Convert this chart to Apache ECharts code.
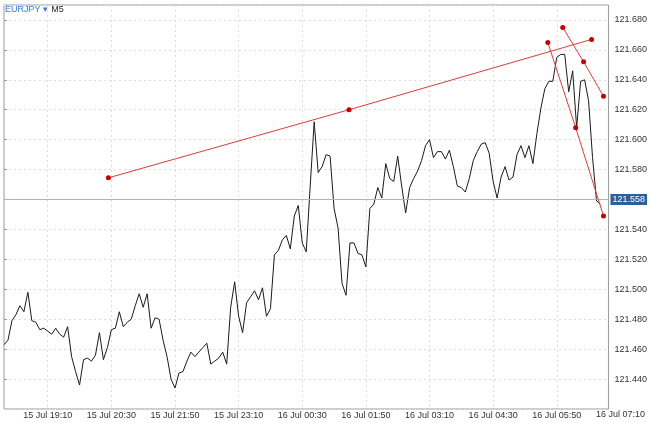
<!DOCTYPE html><html><head><meta charset="utf-8"><script src="https://cdn.jsdelivr.net/npm/echarts@6/dist/echarts.min.js"></script>
<style>html,body{margin:0;padding:0;background:#fff}#c{width:650px;height:423px}</style></head><body><div id="c"></div><script>
const prices=[121.463,121.466,121.479,121.483,121.489,121.485,121.498,121.479,121.478,121.473,121.474,121.472,121.470,121.474,121.470,121.468,121.475,121.455,121.445,121.436,
121.453,121.454,121.452,121.456,121.471,121.453,121.461,121.473,121.474,121.485,121.475,121.478,121.480,121.489,121.497,121.488,121.497,121.474,121.481,121.480,
121.466,121.455,121.440,121.434,121.444,121.445,121.452,121.458,121.455,121.458,121.461,121.464,121.450,121.452,121.454,121.458,121.450,121.488,121.505,121.482,
121.471,121.491,121.495,121.499,121.493,121.501,121.482,121.487,121.523,121.526,121.533,121.536,121.527,121.549,121.556,121.531,121.525,121.569,121.612,121.578,
121.582,121.590,121.589,121.554,121.541,121.504,121.496,121.531,121.531,121.524,121.523,121.515,121.554,121.557,121.568,121.561,121.584,121.574,121.572,121.589,
121.569,121.551,121.568,121.574,121.579,121.586,121.596,121.600,121.588,121.592,121.592,121.587,121.593,121.582,121.569,121.568,121.565,121.574,121.586,121.592,
121.597,121.598,121.591,121.572,121.561,121.575,121.582,121.573,121.575,121.590,121.596,121.588,121.596,121.584,121.604,121.621,121.634,121.639,121.639,121.655,
121.657,121.657,121.632,121.646,121.608,121.639,121.640,121.626,121.588,121.559,121.557];
const currentPrice=121.558;
const trend1=[[26.25,121.5745],[86.75,121.620],[147.75,121.667]];
const trend2=[[136.75,121.665],[143.75,121.608],[150.75,121.549]];
const trend3=[[140.5,121.675],[145.75,121.652],[150.75,121.629]];
const edgeLabel='16 Jul 07:10';
const totalBars=153;
const cats=[];
for(let i=0;i<totalBars;i++){const t=18*60+15+5*i;const m=t%1440;const d=t>=1440?'16 Jul ':'15 Jul ';cats.push(d+String(Math.floor(m/60)).padStart(2,'0')+':'+String(m%60).padStart(2,'0'));}
const data=cats.map((c,i)=>i<prices.length?prices[i]:null);
const showIdx=(i)=>i>=11&&(i-11)%16===0;
const tl=(d)=>({type:'line',xAxisIndex:1,data:d,symbol:'circle',symbolSize:5,lineStyle:{color:'#e23b3b',width:1},itemStyle:{color:'#c80000'},silent:true,z:5});
const chart=echarts.init(document.getElementById('c'));
chart.setOption({animation:false,
grid:{left:4,right:34,top:5,bottom:14,show:true,borderColor:'#9a9a9a',borderWidth:1},
graphic:[{type:'text',left:5,top:4,style:{rich:{a:{fill:'#2f7fd8',fontSize:9,fontFamily:'Arial'},b:{fill:'#222',fontSize:9,fontFamily:'Arial'}},text:'{a|EURJPY ▾} {b|M5}'}},
{type:'text',left:596,top:410,style:{text:edgeLabel,fill:'#333',fontSize:9,fontFamily:'Arial'}}],
xAxis:[{type:'category',data:cats,boundaryGap:false,axisLine:{show:false},axisTick:{show:false},
axisLabel:{interval:(i)=>showIdx(i),fontSize:9,color:'#333',margin:2,fontFamily:'Arial'},
splitLine:{show:true,interval:(i)=>showIdx(i),lineStyle:{color:'#ddd',type:[2,3]}}},
{type:'value',min:0,max:totalBars-1,show:false}],
yAxis:{type:'value',position:'right',min:121.42,max:121.69,interval:0.02,axisLine:{show:false},axisTick:{show:true,length:3,lineStyle:{color:'#999'}},
axisLabel:{showMinLabel:false,showMaxLabel:false,fontSize:9,color:'#333',margin:6,fontFamily:'Arial',formatter:v=>v.toFixed(3)},
splitLine:{lineStyle:{color:'#ddd',type:[2,3]}}},
series:[{type:'line',data:data,symbol:'none',lineStyle:{color:'#1a1a1a',width:1},
markLine:{symbol:'none',silent:true,data:[{yAxis:currentPrice}],lineStyle:{color:'#a8b4d4',width:1,type:'solid'},
label:{position:'end',formatter:()=>currentPrice.toFixed(3),backgroundColor:'#2d5f9e',color:'#fff',fontSize:9,padding:[1,2],distance:2,fontFamily:'Arial'}}},
tl(trend1),tl(trend2),tl(trend3)]});
</script></body></html>
